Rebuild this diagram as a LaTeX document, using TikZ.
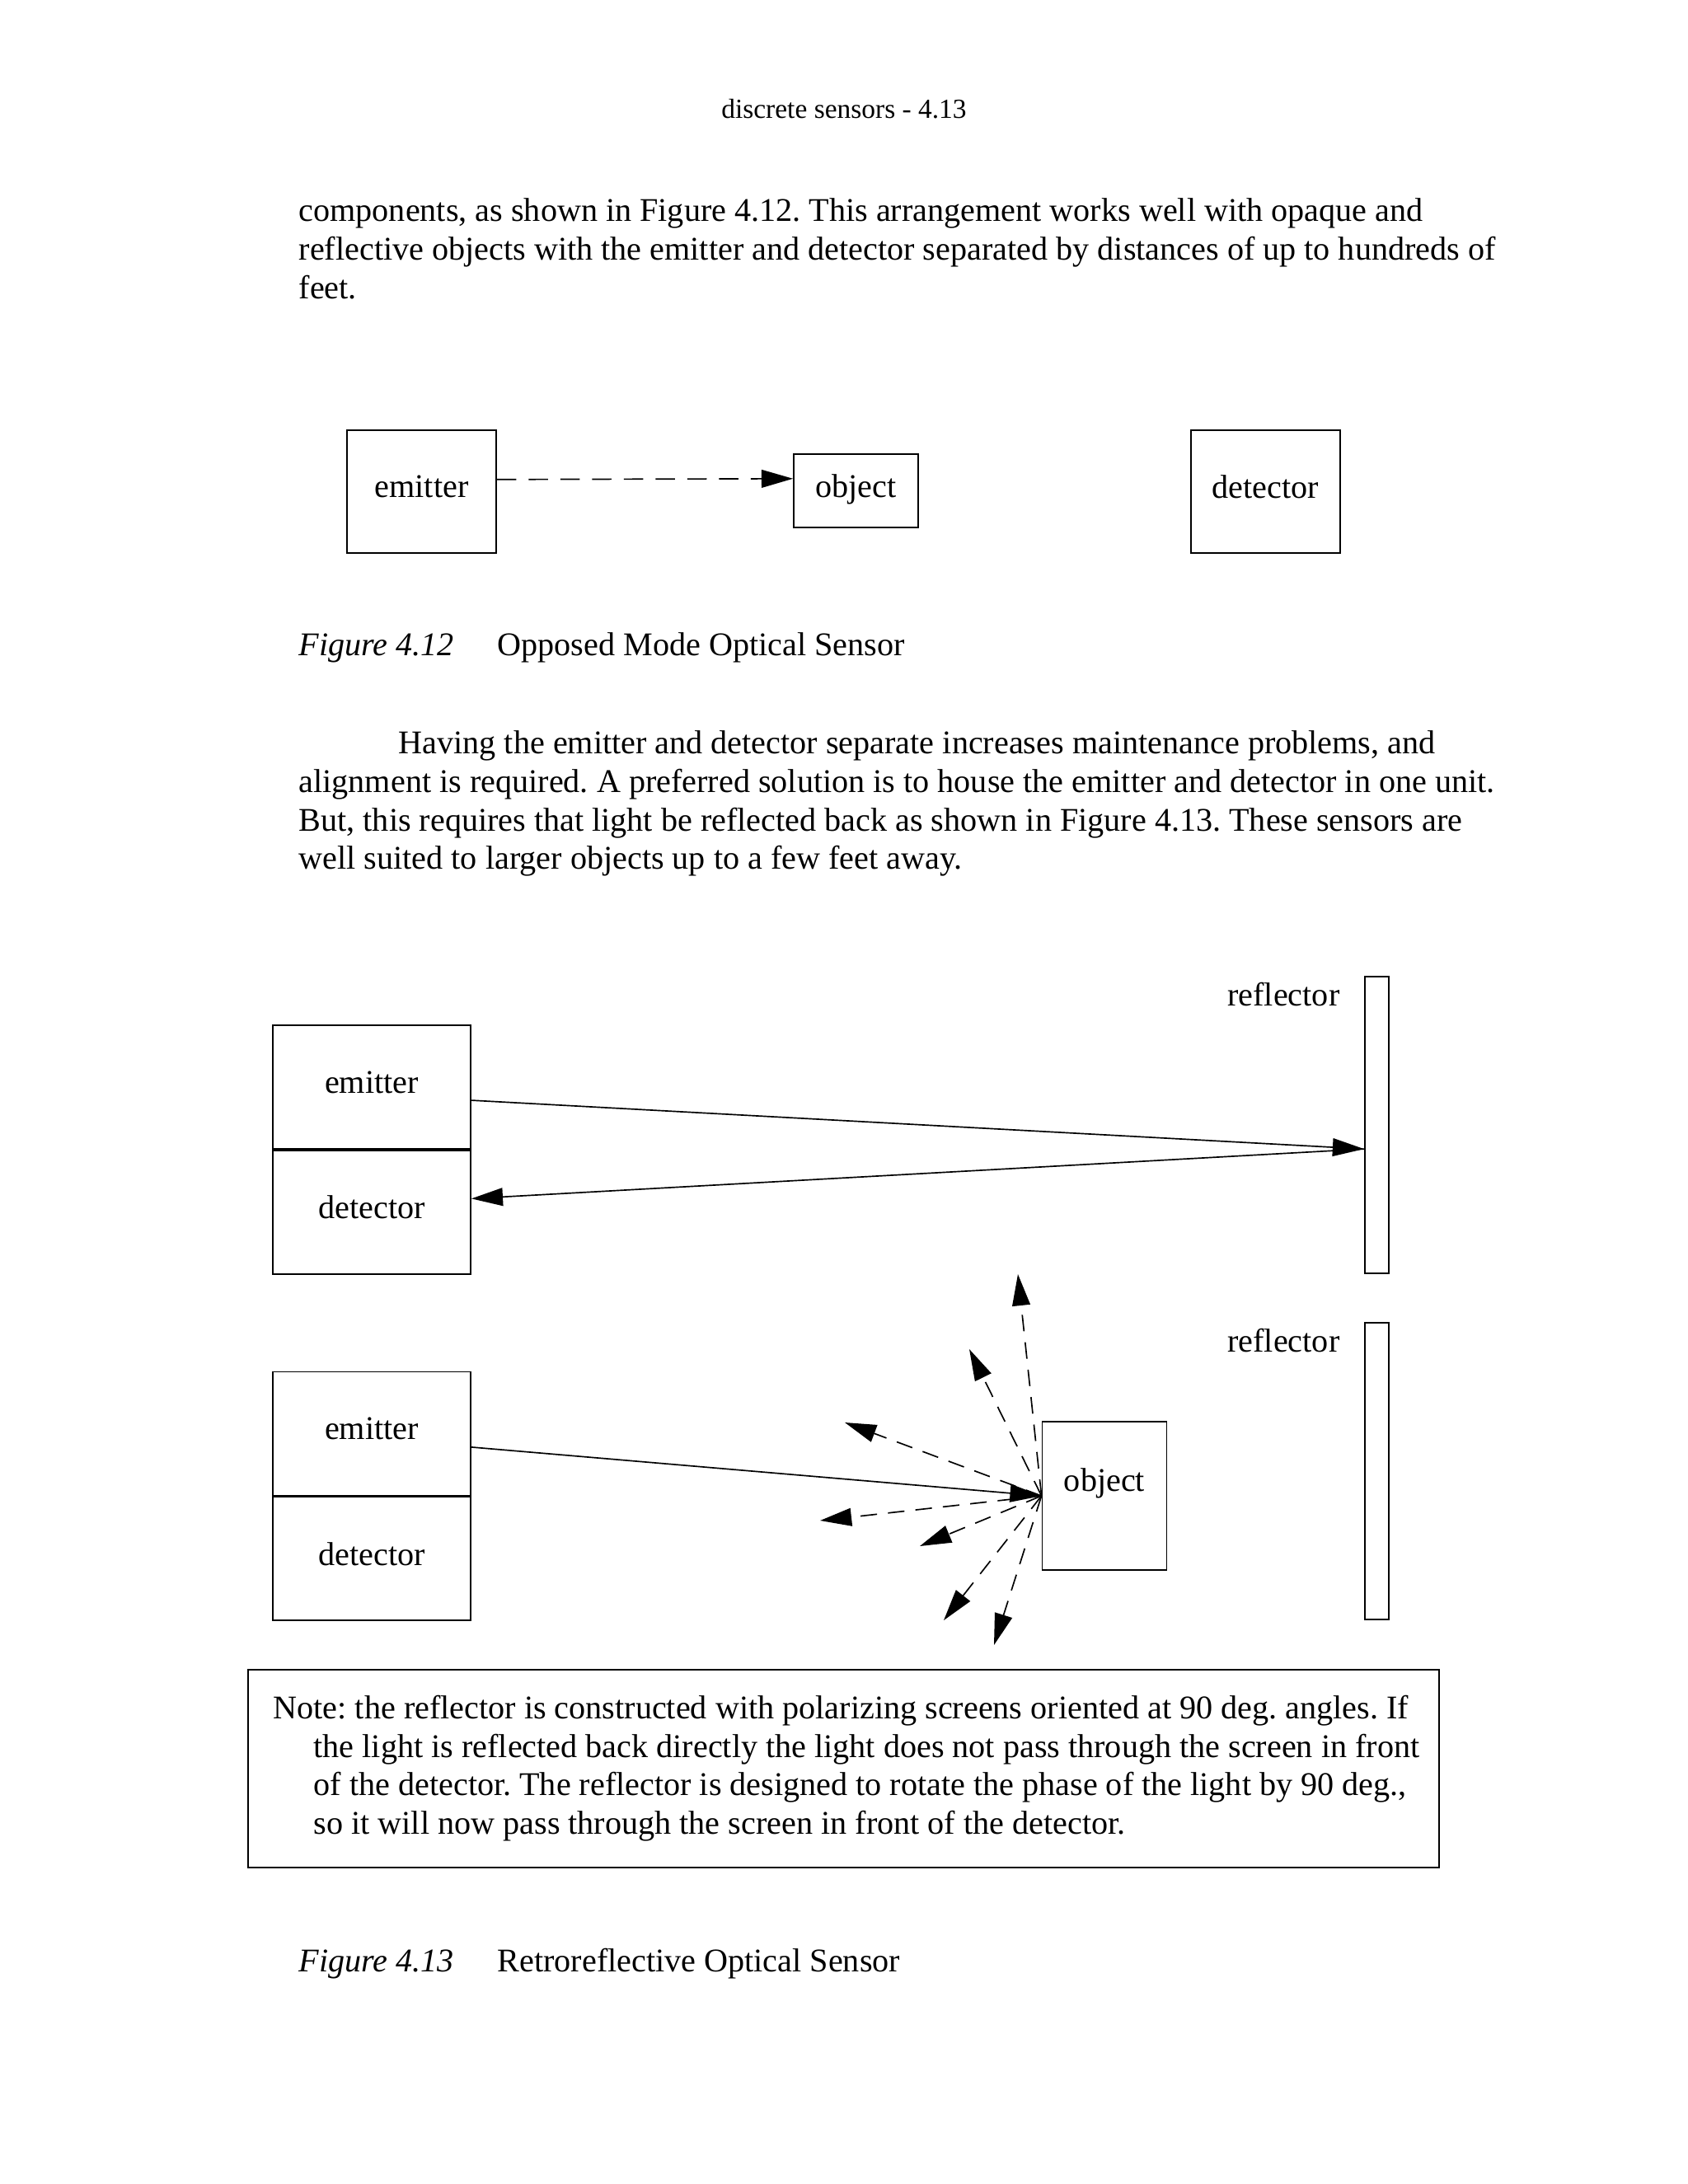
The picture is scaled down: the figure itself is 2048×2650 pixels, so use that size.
\documentclass[tikz,border=0pt]{standalone}
\usepackage{fontspec}
\setmainfont{Liberation Serif}
\frenchspacing
\usetikzlibrary{arrows.meta,positioning}
\tikzset{
  box/.style={draw,rectangle,line width=0.55pt,inner sep=0pt,text depth=3.5pt,font=\fontsize{12}{14}\selectfont},
  txt/.style={anchor=base west,inner sep=0pt,font=\fontsize{12}{14}\selectfont},
  captxt/.style={txt,font=\fontsize{12}{14}\selectfont\itshape},
  ray/.style={-{Triangle[length=11.4pt,width=6.5pt]},line width=0.5pt},
  scatter/.style={ray,dash pattern=on 6pt off 4pt}
}

\begin{document}
\begin{tikzpicture}[x=0.29883pt,y=-0.29883pt]
  \path[fill=white,use as bounding box] (0,0) rectangle (2048,2650);

  % page head and running text
  \node[anchor=base,inner sep=0pt,font=\fontsize{10}{12}\selectfont] (head) at (1024,143) {discrete sensors - 4.13};
  \node[txt] (para1a) at (362,268) {components, as shown in Figure 4.12. This arrangement works well with opaque and};
  \node[txt] (para1b) at (362,315) {reflective objects with the emitter and detector separated by distances of up to hundreds of};
  \node[txt] (para1c) at (362,362) {feet.};

  % Figure 4.12
  \node[box,minimum width=54.1pt,minimum height=44.5pt] (emit1) at (511.5,596.5) {emitter};
  \node[box,minimum width=45.1pt,minimum height=26.6pt] (obj1) at (1038.5,595.5) {object};
  \node[box,minimum width=54.1pt,minimum height=44.5pt] (det1) at (1535.5,596.5) {detector};
  \draw[ray,dash pattern=on 7pt off 4.5pt] ([yshift=4.4pt]emit1.east) -- ([yshift=4.4pt]obj1.west);

  \node[captxt] (cap1) at (362,795) {Figure 4.12};
  \node[txt] (cap1t) at (603,795) {Opposed Mode Optical Sensor};

  \node[txt] (para2a) at (483,914) {Having the emitter and detector separate increases maintenance problems, and};
  \node[txt] (para2b) at (362,961) {alignment is required. A preferred solution is to house the emitter and detector in one unit.};
  \node[txt] (para2c) at (362,1008) {But, this requires that light be reflected back as shown in Figure 4.13. These sensors are};
  \node[txt] (para2d) at (362,1054) {well suited to larger objects up to a few feet away.};

  % Figure 4.13, upper part
  \node[txt,anchor=base east] (rlbl1) at (1626,1220) {reflector};
  \node[box,minimum width=8.7pt,minimum height=107.6pt] (refl1) at (1670.5,1365) {};
  \node[box,minimum width=71.7pt,minimum height=44.8pt] (emit2) at (451,1319) {emitter};
  \node[box,minimum width=71.7pt,minimum height=44.8pt,below=0pt of emit2] (det2) {detector};
  \draw[ray] ([yshift=-4.8pt]emit2.east) -- ([yshift=-8.7pt]refl1.west);
  \draw[ray] ([yshift=-8.7pt]refl1.west) -- ([yshift=4.9pt]det2.east);

  % Figure 4.13, lower part
  \node[txt,anchor=base east] (rlbl2) at (1626,1640) {reflector};
  \node[box,minimum width=8.7pt,minimum height=107.6pt] (refl2) at (1670.5,1785) {};
  \node[box,minimum width=71.7pt,minimum height=44.8pt] (emit3) at (451,1739.5) {emitter};
  \node[box,minimum width=71.7pt,minimum height=44.8pt,below=0pt of emit3] (det3) {detector};
  \node[box,minimum width=45.1pt,minimum height=53.8pt,text depth=11.5pt] (obj2) at (1340,1815) {object};
  \draw[ray] ([yshift=-4.9pt]emit3.east) -- (obj2.west);

  \coordinate (sc1) at (1235,1546);
  \coordinate (sc2) at (1176,1637);
  \coordinate (sc3) at (1025,1726);
  \coordinate (sc4) at (995,1845);
  \coordinate (sc5) at (1116,1876);
  \coordinate (sc6) at (1145,1966);
  \coordinate (sc7) at (1206,1996);
  \draw[scatter] (obj2.west) -- (sc1);
  \draw[scatter] (obj2.west) -- (sc2);
  \draw[scatter] (obj2.west) -- (sc3);
  \draw[scatter] (obj2.west) -- (sc4);
  \draw[scatter] (obj2.west) -- (sc5);
  \draw[scatter] (obj2.west) -- (sc6);
  \draw[scatter] (obj2.west) -- (sc7);

  % note
  \node[draw,rectangle,line width=0.55pt,minimum width=431.8pt,minimum height=71.7pt] (note) at (1023.5,2146) {};
  \node[txt] (note1) at (331,2085) {Note: the reflector is constructed with polarizing screens oriented at 90 deg. angles. If};
  \node[txt] (note2) at (380,2132) {the light is reflected back directly the light does not pass through the screen in front};
  \node[txt] (note3) at (380,2178) {of the detector. The reflector is designed to rotate the phase of the light by 90 deg.,};
  \node[txt] (note4) at (380,2225) {so it will now pass through the screen in front of the detector.};

  \node[captxt] (cap2) at (362,2392) {Figure 4.13};
  \node[txt] (cap2t) at (603,2392) {Retroreflective Optical Sensor};
\end{tikzpicture}
\end{document}
